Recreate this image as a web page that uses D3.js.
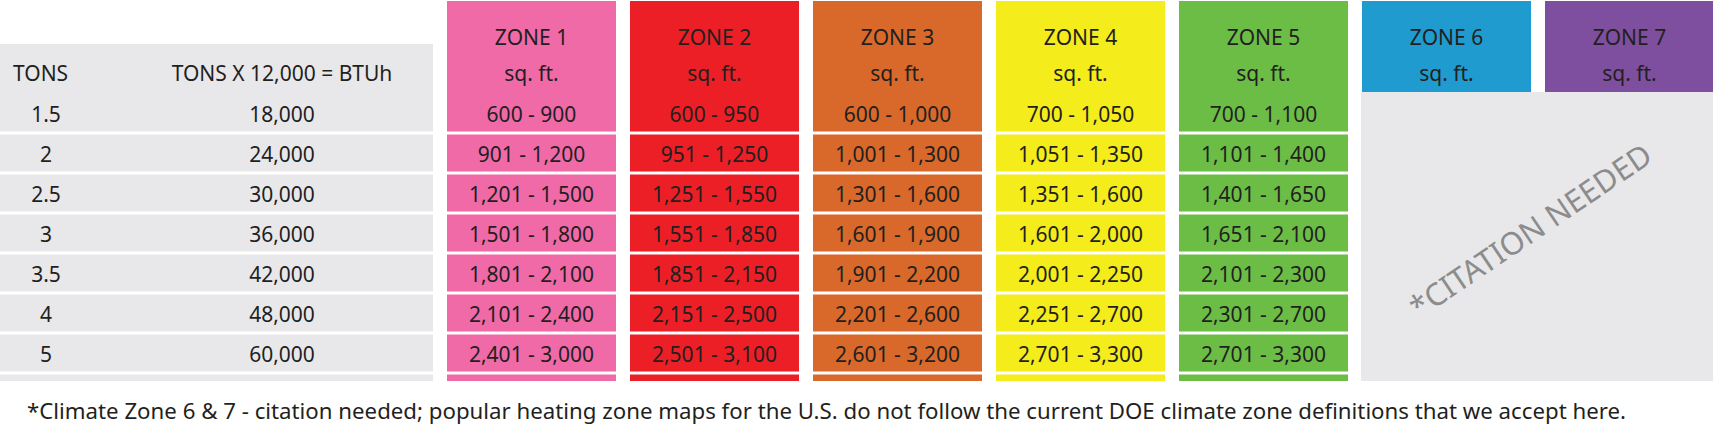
<!DOCTYPE html>
<html><head><meta charset="utf-8">
<script src="https://cdn.jsdelivr.net/npm/d3@7"></script>
<style>body{margin:0;background:#fff}svg{display:block}text{font-family:"Noto Sans",sans-serif}</style>
</head><body><svg id="c" width="1713" height="438"></svg>
<script>
const tons = ["1.5","2","2.5","3","3.5","4","5"];
const btu = ["18,000","24,000","30,000","36,000","42,000","48,000","60,000"];
const zones = ["ZONE 1","ZONE 2","ZONE 3","ZONE 4","ZONE 5","ZONE 6","ZONE 7"];
const zoneColors = ["#f06aa8","#ec1f26","#d8692a","#f4ec1b","#6bbd46","#1f9bd0","#7e4f9e"];
const zone1 = ["600 - 900","901 - 1,200","1,201 - 1,500","1,501 - 1,800","1,801 - 2,100","2,101 - 2,400","2,401 - 3,000"];
const zone2 = ["600 - 950","951 - 1,250","1,251 - 1,550","1,551 - 1,850","1,851 - 2,150","2,151 - 2,500","2,501 - 3,100"];
const zone3 = ["600 - 1,000","1,001 - 1,300","1,301 - 1,600","1,601 - 1,900","1,901 - 2,200","2,201 - 2,600","2,601 - 3,200"];
const zone4 = ["700 - 1,050","1,051 - 1,350","1,351 - 1,600","1,601 - 2,000","2,001 - 2,250","2,251 - 2,700","2,701 - 3,300"];
const zone5 = ["700 - 1,100","1,101 - 1,400","1,401 - 1,650","1,651 - 2,100","2,101 - 2,300","2,301 - 2,700","2,701 - 3,300"];
const zoneRanges = [zone1,zone2,zone3,zone4,zone5];
const footnote = "*Climate Zone 6 & 7 - citation needed; popular heating zone maps for the U.S. do not follow the current DOE climate zone definitions that we accept here.";

const svg = d3.select("#c");
const gray = "#e8e8ea";
const x = d3.scaleBand().domain(zones).range([447, 1714]).paddingInner(14/183).paddingOuter(0);
// row boundaries: row i spans [y(i-1), y(i)] for i>=1
const y = d3.scaleLinear().domain([0, 7]).range([133, 413]);
const rowMid = i => i === 0 ? 114 : (y(i-1) + y(i)) / 2 + 1;
const rowTop = i => i === 0 ? null : y(i-1) + 1.5;
const rowH = 37;

// left gray panel
svg.append("rect").attr("x",0).attr("y",44).attr("width",433).attr("height",337).attr("fill",gray);
// separators
svg.selectAll(".sep").data(d3.range(0,7)).join("rect")
  .attr("x",0).attr("width",1713).attr("y",i=>y(i)-1.5).attr("height",3).attr("fill","#fff");

// zone columns 1-5
zoneRanges.forEach((vals, zi) => {
  const g = svg.append("g");
  const x0 = x(zones[zi]), w = x.bandwidth(), col = zoneColors[zi];
  g.append("rect").attr("x",x0).attr("y",1).attr("width",w).attr("height",y(0)-1.5-1).attr("fill",col);
  d3.range(1,7).forEach(i => g.append("rect").attr("x",x0).attr("y",rowTop(i)).attr("width",w).attr("height",rowH).attr("fill",col));
  g.append("rect").attr("x",x0).attr("y",y(6)+1.5).attr("width",w).attr("height",381-y(6)-1.5).attr("fill",col);
  g.append("text").attr("x",x0+w/2).attr("y",37).attr("text-anchor","middle").attr("dominant-baseline","central").attr("font-size",21).attr("fill","#231f20").text(zones[zi]);
  g.append("text").attr("x",x0+w/2).attr("y",73).attr("text-anchor","middle").attr("dominant-baseline","central").attr("font-size",21).attr("fill","#231f20").text("sq. ft.");
  g.selectAll(".v").data(vals).join("text").attr("x",x0+w/2).attr("y",(d,i)=>rowMid(i))
    .attr("text-anchor","middle").attr("dominant-baseline","central").attr("font-size",21).attr("fill","#231f20").text(d=>d);
});
// right gray panel
svg.append("rect").attr("x",x("ZONE 6")-1).attr("y",92).attr("width",1713-x("ZONE 6")+1).attr("height",289).attr("fill",gray);
// re-draw separators' absence in right panel: none (panel is continuous)
[5,6].forEach(zi => {
  const x0 = x(zones[zi]), w = x.bandwidth();
  svg.append("rect").attr("x",x0).attr("y",1).attr("width",w).attr("height",91).attr("fill",zoneColors[zi]);
  svg.append("text").attr("x",x0+w/2).attr("y",37).attr("text-anchor","middle").attr("dominant-baseline","central").attr("font-size",21).attr("fill","#231f20").text(zones[zi]);
  svg.append("text").attr("x",x0+w/2).attr("y",73).attr("text-anchor","middle").attr("dominant-baseline","central").attr("font-size",21).attr("fill","#231f20").text("sq. ft.");
});
svg.append("text").attr("transform","translate(1530,230) rotate(-34)").attr("text-anchor","middle").attr("dominant-baseline","central")
  .attr("font-size",31).attr("fill","#8c8c8c").text("*CITATION NEEDED");

// left headers
svg.append("text").attr("x",13).attr("y",73).attr("dominant-baseline","central").attr("font-size",21).attr("fill","#231f20").text("TONS");
svg.append("text").attr("x",282).attr("y",73).attr("text-anchor","middle").attr("dominant-baseline","central").attr("font-size",21).attr("fill","#231f20").text("TONS X 12,000 = BTUh");
svg.selectAll(".t").data(tons).join("text").attr("x",46).attr("y",(d,i)=>rowMid(i)).attr("text-anchor","middle").attr("dominant-baseline","central").attr("font-size",21).attr("fill","#231f20").text(d=>d);
svg.selectAll(".b").data(btu).join("text").attr("x",282).attr("y",(d,i)=>rowMid(i)).attr("text-anchor","middle").attr("dominant-baseline","central").attr("font-size",21).attr("fill","#231f20").text(d=>d);

svg.append("text").attr("x",27).attr("y",411).attr("dominant-baseline","central").attr("font-size",21)
  .attr("textLength",1599).attr("lengthAdjust","spacingAndGlyphs").attr("fill","#231f20").text(footnote);
</script></body></html>
